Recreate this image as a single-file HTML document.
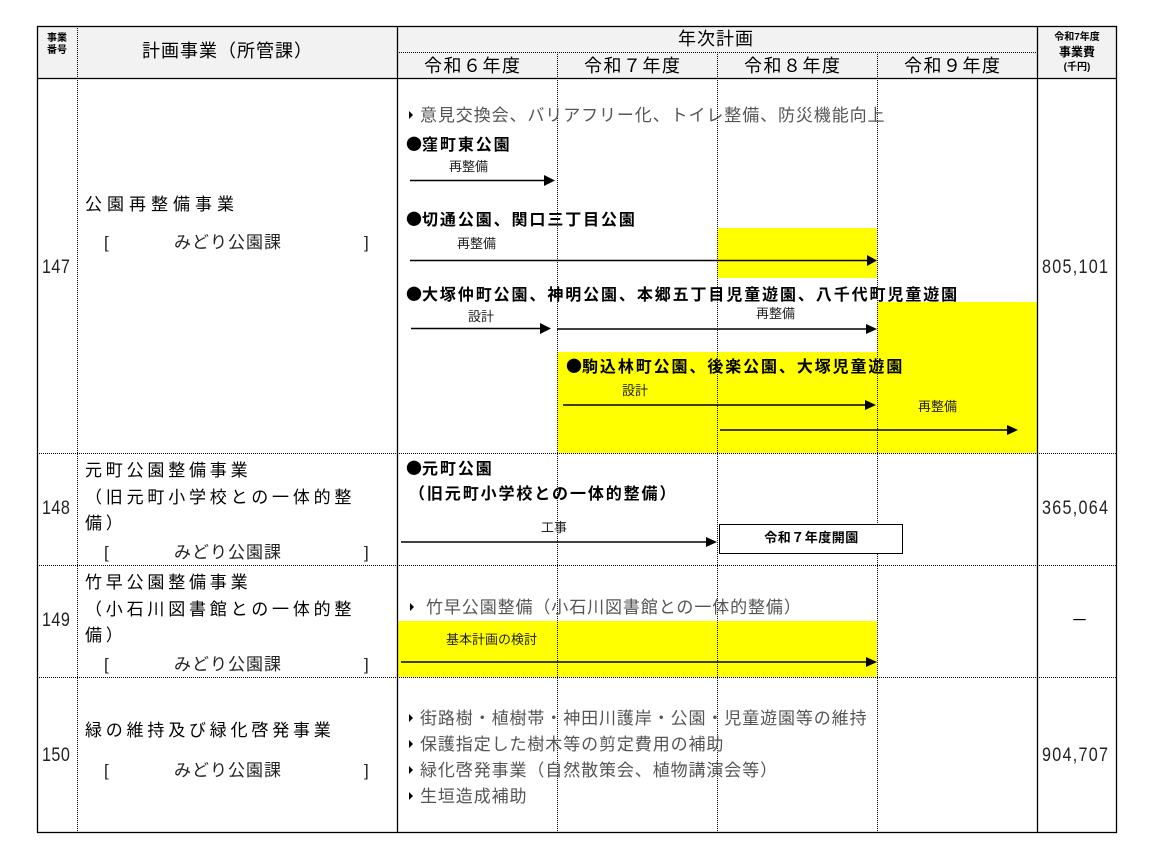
<!DOCTYPE html>
<html><head><meta charset="utf-8"><style>
body{margin:0;background:#fff;}
#c{position:relative;width:1155px;height:858px;overflow:hidden;font-family:"Liberation Sans","Noto Sans CJK JP",sans-serif;color:#000;}
.t{position:absolute;white-space:nowrap;line-height:1;}
.h{font-size:18px;}
.b{font-weight:bold;font-size:16px;letter-spacing:1.9px;}
.b i{font-style:normal;font-family:"Noto Sans CJK JP",sans-serif;letter-spacing:0;}
.g{font-size:17px;color:#555;letter-spacing:0.9px;}
.s{font-size:13px;color:#222;}
.l{font-size:17px;letter-spacing:3.8px;}
.n{font-size:19px;transform:scaleX(0.85);transform-origin:left;color:#222;letter-spacing:0.5px;}
</style></head><body><div id="c">
<svg width="1155" height="858" style="position:absolute;left:0;top:0">
<rect x="37" y="26" width="1080" height="52" fill="#f2f2f2"/>
<rect x="717" y="228" width="160" height="50" fill="#ffff00"/>
<rect x="877" y="302" width="160" height="151" fill="#ffff00"/>
<rect x="557" y="352" width="320" height="101" fill="#ffff00"/>
<rect x="397" y="621" width="480" height="56" fill="#ffff00"/>
<g stroke="#000" stroke-width="1" stroke-dasharray="1,1" fill="none">
<line x1="77.5" y1="26" x2="77.5" y2="833"/>
<line x1="557.5" y1="52" x2="557.5" y2="833"/>
<line x1="717.5" y1="52" x2="717.5" y2="833"/>
<line x1="877.5" y1="52" x2="877.5" y2="833"/>
<line x1="397" y1="52.5" x2="1037" y2="52.5"/>
<line x1="37" y1="453.5" x2="1117" y2="453.5"/>
<line x1="37" y1="565.5" x2="1117" y2="565.5"/>
<line x1="37" y1="677.5" x2="1117" y2="677.5"/>
</g>
<g stroke="#000" stroke-width="1.3" fill="none">
<rect x="37.5" y="26.5" width="1079" height="806"/>
<line x1="397.5" y1="26" x2="397.5" y2="833"/>
<line x1="1037.5" y1="26" x2="1037.5" y2="833"/>
<line x1="37" y1="78.5" x2="1117" y2="78.5"/>
</g>
<g stroke="#000" stroke-width="1.6">
<line x1="410" y1="180.5" x2="545" y2="180.5"/>
<line x1="410" y1="260.5" x2="868" y2="260.5"/>
<line x1="411" y1="328.5" x2="541" y2="328.5"/>
<line x1="557" y1="329" x2="867" y2="329"/>
<line x1="563" y1="405" x2="866" y2="405"/>
<line x1="720" y1="430" x2="1008" y2="430"/>
<line x1="401" y1="542" x2="707" y2="542"/>
<line x1="401" y1="662" x2="867" y2="662"/>
</g>
<g fill="#000">
<polygon points="544,175 555,180.5 544,186"/>
<polygon points="867,255 877,260.5 867,266"/>
<polygon points="540,323 551,328.5 540,334"/>
<polygon points="866,324 877,329 866,334"/>
<polygon points="865,400 876,405 865,410"/>
<polygon points="1007,425 1018,430 1007,435"/>
<polygon points="706,537 717,542 706,547"/>
<polygon points="866,657 877,662 866,667"/>
<polygon points="409,111 413,115 409,119"/>
<polygon points="410,603 414,607 410,611"/>
<polygon points="409,714 413,718 409,722"/>
<polygon points="409,740 413,744 409,748"/>
<polygon points="409,766 413,770 409,774"/>
<polygon points="409,792 413,796 409,800"/>
</g>
<rect x="719.5" y="524.5" width="183" height="29" fill="#fff" stroke="#000" stroke-width="1"/>
</svg>

<div class="t" style="left:42px;top:33px;font-size:10px;font-weight:bold;line-height:12px;text-align:center;width:30px">事業<br>番号</div>
<div class="t h" style="left:142px;top:42px;letter-spacing:1px">計画事業（所管課）</div>
<div class="t h" style="left:678px;top:30px;letter-spacing:1px">年次計画</div>
<div class="t h" style="left:424px;top:57px;letter-spacing:1.5px">令和６年度</div>
<div class="t h" style="left:584px;top:57px;letter-spacing:1.5px">令和７年度</div>
<div class="t h" style="left:744px;top:57px;letter-spacing:1.5px">令和８年度</div>
<div class="t h" style="left:904px;top:57px;letter-spacing:1.5px">令和９年度</div>
<div class="t" style="left:1040px;top:31px;width:74px;text-align:center;font-size:10px;font-weight:bold;line-height:14px">令和7年度<br><span style="font-size:12px">事業費</span><br>(千円)</div>

<div class="t n" style="left:42px;top:258px">147</div>
<div class="t n" style="left:42px;top:499px">148</div>
<div class="t n" style="left:42px;top:611px">149</div>
<div class="t n" style="left:42px;top:746px">150</div>

<div class="t n" style="left:1042px;top:258px;letter-spacing:1.5px">805,101</div>
<div class="t n" style="left:1042px;top:499px;letter-spacing:1.5px">365,064</div>
<div class="t" style="left:1071px;top:612px;font-size:17px">－</div>
<div class="t n" style="left:1042px;top:746px;letter-spacing:1.5px">904,707</div>

<div class="t l" style="left:85px;top:196px;letter-spacing:5px">公園再整備事業</div>
<div class="t g" style="left:104px;top:234px;color:#222">[</div>
<div class="t g" style="left:174px;top:234px;color:#222;letter-spacing:1px">みどり公園課</div>
<div class="t g" style="left:364px;top:234px;color:#222">]</div>

<div class="t l" style="left:85px;top:462px">元町公園整備事業</div>
<div class="t l" style="left:85px;top:489px">（旧元町小学校との一体的整</div>
<div class="t l" style="left:85px;top:515px">備）</div>
<div class="t g" style="left:104px;top:544px;color:#222">[</div>
<div class="t g" style="left:174px;top:544px;color:#222;letter-spacing:1px">みどり公園課</div>
<div class="t g" style="left:364px;top:544px;color:#222">]</div>

<div class="t l" style="left:85px;top:574px">竹早公園整備事業</div>
<div class="t l" style="left:85px;top:601px">（小石川図書館との一体的整</div>
<div class="t l" style="left:85px;top:627px">備）</div>
<div class="t g" style="left:104px;top:656px;color:#222">[</div>
<div class="t g" style="left:174px;top:656px;color:#222;letter-spacing:1px">みどり公園課</div>
<div class="t g" style="left:364px;top:656px;color:#222">]</div>

<div class="t l" style="left:85px;top:722px">緑の維持及び緑化啓発事業</div>
<div class="t g" style="left:104px;top:762px;color:#222">[</div>
<div class="t g" style="left:174px;top:762px;color:#222;letter-spacing:1px">みどり公園課</div>
<div class="t g" style="left:364px;top:762px;color:#222">]</div>

<div class="t g" style="left:420px;top:107px">意見交換会、バリアフリー化、トイレ整備、防災機能向上</div>
<div class="t b" style="left:406px;top:135px"><i>●</i>窪町東公園</div>
<div class="t s" style="left:449px;top:160px">再整備</div>
<div class="t b" style="left:406px;top:210px"><i>●</i>切通公園、関口三丁目公園</div>
<div class="t s" style="left:457px;top:237px">再整備</div>
<div class="t b" style="left:406px;top:285px"><i>●</i>大塚仲町公園、神明公園、本郷五丁目児童遊園、八千代町児童遊園</div>
<div class="t s" style="left:468px;top:310px">設計</div>
<div class="t s" style="left:756px;top:307px">再整備</div>
<div class="t b" style="left:566px;top:357px"><i>●</i>駒込林町公園、後楽公園、大塚児童遊園</div>
<div class="t s" style="left:622px;top:384px">設計</div>
<div class="t s" style="left:918px;top:400px">再整備</div>

<div class="t b" style="left:406px;top:459px"><i>●</i>元町公園</div>
<div class="t b" style="left:409px;top:487px">（旧元町小学校との一体的整備）</div>
<div class="t s" style="left:541px;top:521px">工事</div>
<div class="t" style="left:720px;top:531px;width:183px;text-align:center;font-size:13px;font-weight:bold;letter-spacing:0.5px">令和７年度開園</div>

<div class="t g" style="left:426px;top:599px">竹早公園整備（小石川図書館との一体的整備）</div>
<div class="t s" style="left:446px;top:633px">基本計画の検討</div>

<div class="t g" style="left:420px;top:710px">街路樹・植樹帯・神田川護岸・公園・児童遊園等の維持</div>
<div class="t g" style="left:420px;top:736px">保護指定した樹木等の剪定費用の補助</div>
<div class="t g" style="left:420px;top:762px">緑化啓発事業（自然散策会、植物講演会等）</div>
<div class="t g" style="left:420px;top:788px">生垣造成補助</div>
</div></body></html>
